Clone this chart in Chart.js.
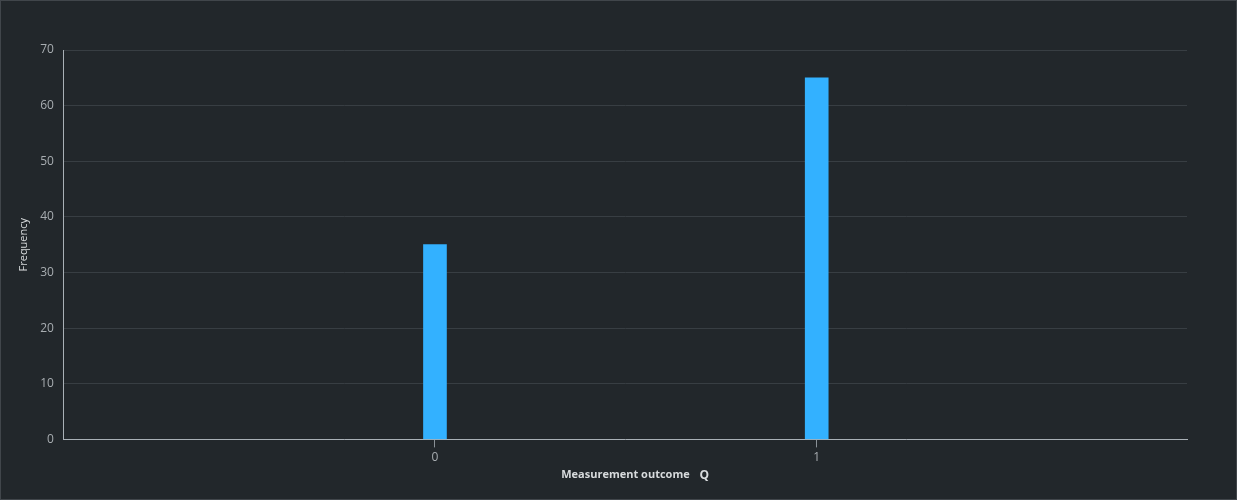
<!DOCTYPE html>
<html>
<head>
<meta charset="utf-8">
<script src="https://cdn.jsdelivr.net/npm/chart.js@4"></script>
<style>
  html, body { margin: 0; padding: 0; background: #22272b; }
  #wrap { width: 1235px; height: 498px; border: 1px solid #41464b; background: #22272b; }
</style>
</head>
<body>
<div id="wrap"><canvas id="chart" width="1235" height="498"></canvas></div>
<script>
// Measurement outcomes and their counts
const outcomes = [0, 1];
const frequencies = [35, 65];
const yTicks = [0, 10, 20, 30, 40, 50, 60, 70];

const points = outcomes.map((o, i) => ({ x: o, y: frequencies[i] }));

// draws the bold "Q" after the x axis title
const qMark = {
  id: 'qMark',
  afterDraw(chart) {
    const c = chart.ctx;
    const a = chart.chartArea;
    c.save();
    c.font = 'bold 12px "Open Sans", sans-serif';
    c.fillStyle = '#d8dbdd';
    c.textBaseline = 'middle';
    c.fillText('Q', (a.left + a.right) / 2 + 74, a.bottom + 36);
    c.restore();
  }
};

new Chart(document.getElementById('chart').getContext('2d'), {
  type: 'bar',
  data: {
    datasets: [{
      data: points,
      backgroundColor: '#33b1ff',
      barThickness: 23
    }]
  },
  options: {
    responsive: false,
    animation: false,
    layout: { padding: { top: 49, right: 49, bottom: 18, left: 16 } },
    plugins: { legend: { display: false }, tooltip: { enabled: false } },
    scales: {
      x: {
        type: 'linear',
        offset: false,
        min: -0.972,
        max: 1.97,
        afterBuildTicks: s => { s.ticks = outcomes.map(v => ({ value: v })); },
        grid: { offset: false, drawOnChartArea: false, drawTicks: true, tickLength: 8, color: '#8a9197' },
        border: { color: '#a9b0b6', width: 1 },
        ticks: { color: '#a8adb1', font: { family: 'Open Sans', size: 12 }, padding: 3 },
        title: {
          display: true,
          text: 'Measurement outcome',
          color: '#d8dbdd',
          font: { family: 'Open Sans', size: 11, weight: 'bold' },
          padding: { top: 0, bottom: 0 }
        }
      },
      y: {
        min: 0,
        max: 70,
        afterBuildTicks: s => { s.ticks = yTicks.map(v => ({ value: v })); },
        grid: { color: '#383e43', drawTicks: false },
        border: { color: '#a9b0b6', width: 1 },
        ticks: { color: '#a8adb1', font: { family: 'Open Sans', size: 12 }, padding: 10 },
        title: {
          display: true,
          text: 'Frequency',
          color: '#d8dbdd',
          font: { family: 'Open Sans', size: 11 },
          padding: { top: 0, bottom: 0 }
        }
      }
    }
  },
  plugins: [qMark]
});
</script>
</body>
</html>
